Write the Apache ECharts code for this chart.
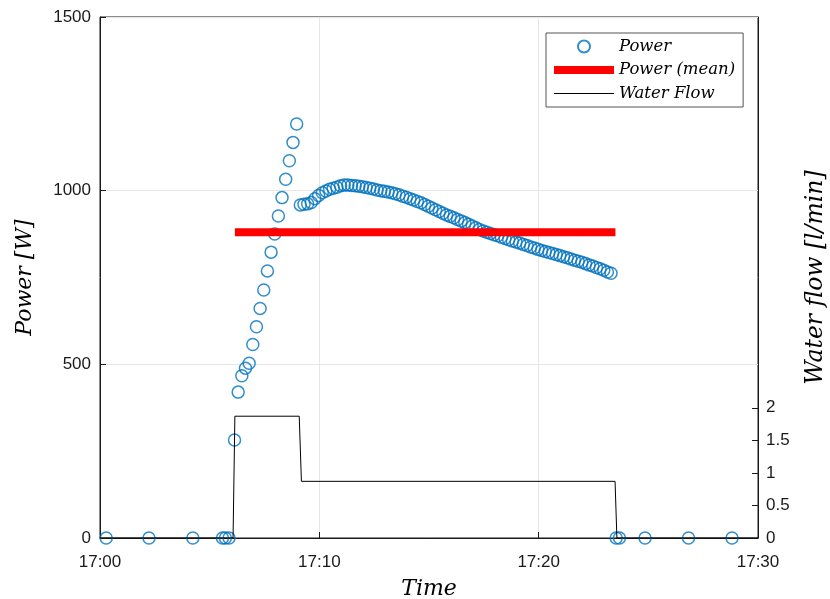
<!DOCTYPE html>
<html>
<head>
<meta charset="utf-8">
<script src="https://cdn.jsdelivr.net/npm/echarts@6/dist/echarts.min.js"></script>
<style>
  html, body { margin: 0; padding: 0; background: #fff; }
  #chart { width: 830px; height: 599px; }
</style>
</head>
<body>
<div id="chart"></div>
<script>
// Sample times in seconds after 17:00
const powerTimes = [
  17, 134, 254, 335, 343, 353,
  368, 378, 388, 398, 408, 418, 428, 438, 448, 458, 468, 478, 488, 498, 508, 518, 528, 538,
  548, 558, 568, 578, 588, 598, 608, 618, 628, 638, 648, 658, 668, 678, 688, 698, 708, 718, 728, 738,
  748, 758, 768, 778, 788, 798, 808, 818, 828, 838, 848, 858, 868, 878, 888, 898, 908, 918, 928, 938,
  948, 958, 968, 978, 988, 998, 1008, 1018, 1028, 1038, 1048, 1058, 1068, 1078, 1088, 1098, 1108, 1118,
  1128, 1138, 1148, 1158, 1168, 1178, 1188, 1198, 1208, 1218, 1228, 1238, 1248, 1258, 1268, 1278, 1288,
  1298, 1308, 1318, 1328, 1338, 1348, 1358, 1368, 1378, 1388, 1398,
  1412, 1421, 1491, 1610, 1729
];
// Measured power in W
const powerValues = [
  0, 0, 0, 0, 0, 0,
  282, 420, 467, 489, 503, 557, 608, 661, 714, 769, 823, 875, 927, 980, 1033, 1086, 1139, 1192,
  959, 961, 962, 966, 977, 986, 994, 999, 1004, 1007, 1010, 1014, 1016, 1016, 1015, 1014, 1013, 1011, 1009, 1007,
  1005, 1002, 1000, 998, 996, 994, 991, 988, 984, 981, 977, 973, 969, 965, 960, 955, 950, 945, 940, 935,
  930, 926, 922, 917, 913, 908, 903, 898, 893, 888, 884, 880, 877, 873, 870, 866, 862, 859,
  855, 852, 849, 845, 842, 838, 835, 831, 828, 825, 822, 819, 816, 813, 810, 807, 803, 800, 797,
  794, 790, 786, 783, 779, 775, 771, 766, 762,
  0, 0, 0, 0, 0
];
// Mean power over the active period
const meanTimes = [369, 1410];
const meanValues = [880, 880];
// Water flow in l/min
const flowTimes = [0, 364, 369, 545, 551, 1409, 1414, 1800];
const flowValues = [0, 0, 1.87, 1.87, 0.87, 0.87, 0, 0];
// Axis ticks
const timeTickLabels = ['17:00', '17:10', '17:20', '17:30'];
const powerTicks = [0, 500, 1000, 1500];
const flowTicks = [0, 0.5, 1, 1.5, 2];

const zip = (a, b) => a.map((v, i) => [v, b[i]]);

const axisColor = '#1a1a1a';
const gridColor = '#e6e6e6';
const tickFont = { fontFamily: 'Liberation Sans, Arial, sans-serif', fontSize: 17, color: '#1a1a1a' };
const nameFont = { fontFamily: 'DejaVu Serif, serif', fontStyle: 'italic', fontSize: 22, color: '#000' };
const hiddenSymbol = { color: 'transparent', borderWidth: 0, opacity: 0 };

const chart = echarts.init(document.getElementById('chart'), null, { renderer: 'canvas' });
chart.setOption({
  animation: false,
  backgroundColor: '#fff',
  grid: {
    left: 100, right: 72, top: 17, bottom: 61,
    containLabel: false,
    outerBoundsMode: 'none',
    show: true, borderColor: axisColor, borderWidth: 1, backgroundColor: 'transparent'
  },
  legend: {
    orient: 'vertical',
    left: 546, top: 33,
    padding: [5, 8, 5, 4],
    itemWidth: 60, itemHeight: 12, itemGap: 6.5,
    backgroundColor: '#fff',
    borderColor: '#555', borderWidth: 1,
    textStyle: { fontFamily: 'DejaVu Serif, serif', fontStyle: 'italic', fontSize: 16.5, color: '#000' },
    lineStyle: { width: 'inherit' },
    data: [
      { name: 'Power' },
      { name: 'Power (mean)', itemStyle: hiddenSymbol },
      { name: 'Water Flow', itemStyle: hiddenSymbol }
    ]
  },
  xAxis: {
    type: 'value',
    min: 0, max: 1800, interval: 600,
    name: 'Time', nameLocation: 'middle', nameGap: 40, nameTextStyle: nameFont,
    axisLine: { show: true, lineStyle: { color: axisColor, width: 1 } },
    axisTick: { show: true, inside: true, length: 6, lineStyle: { color: axisColor } },
    axisLabel: { ...tickFont, margin: 16, formatter: v => timeTickLabels[Math.round(v / 600)] },
    splitLine: { show: true, lineStyle: { color: gridColor, width: 1 } }
  },
  yAxis: [
    {
      type: 'value',
      min: powerTicks[0], max: powerTicks[powerTicks.length - 1], interval: 500,
      name: 'Power [W]', nameLocation: 'middle', nameGap: 64, nameRotate: 90, nameTextStyle: nameFont,
      axisLine: { show: true, lineStyle: { color: axisColor, width: 1 } },
      axisTick: { show: true, inside: true, length: 6, lineStyle: { color: axisColor } },
      axisLabel: { ...tickFont, margin: 9, formatter: v => String(v) },
      splitLine: { show: true, lineStyle: { color: gridColor, width: 1 } }
    },
    {
      type: 'value',
      position: 'right',
      min: 0, max: 8, interval: 0.5,
      name: 'Water flow [l/min]', nameLocation: 'middle', nameGap: 46, nameRotate: 90,
      nameTextStyle: { ...nameFont, fontSize: 23.5 },
      axisLine: { show: true, lineStyle: { color: axisColor, width: 1 } },
      axisTick: { show: true, inside: true, length: 6, lineStyle: { color: axisColor }, customValues: flowTicks },
      axisLabel: { ...tickFont, margin: 8, customValues: flowTicks, formatter: v => String(v) },
      splitLine: { show: false }
    }
  ],
  series: [
    {
      name: 'Power',
      type: 'scatter',
      data: zip(powerTimes, powerValues),
      symbol: 'circle',
      symbolSize: 12,
      clip: false,
      z: 2,
      itemStyle: { color: 'transparent', borderColor: '#0072BD', borderWidth: 1.5 }
    },
    {
      name: 'Power (mean)',
      type: 'line',
      data: zip(meanTimes, meanValues),
      symbol: 'none',
      z: 3,
      lineStyle: { color: '#ff0000', width: 8, cap: 'butt' },
      itemStyle: { color: '#ff0000' }
    },
    {
      name: 'Water Flow',
      type: 'line',
      yAxisIndex: 1,
      data: zip(flowTimes, flowValues),
      symbol: 'none',
      z: 4,
      lineStyle: { color: '#000', width: 1 },
      itemStyle: { color: '#000' }
    }
  ]
});
</script>
</body>
</html>
